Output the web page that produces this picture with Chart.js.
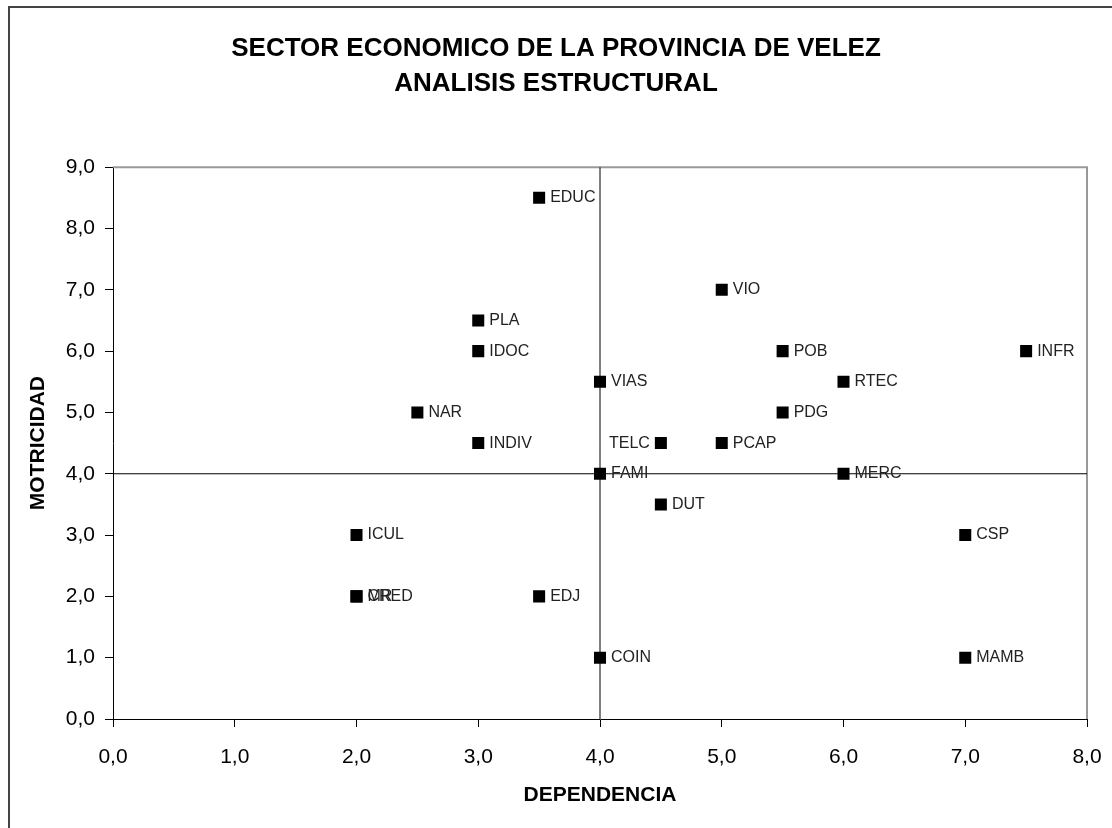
<!DOCTYPE html>
<html>
<head>
<meta charset="utf-8">
<script src="https://cdn.jsdelivr.net/npm/chart.js@4"></script>
<style>
  body { margin: 0; background: #fff; }
  #frame {
    position: absolute; left: 8px; top: 6px;
    width: 1200px; height: 900px;
    border: 2px solid #444;
  }
  #chart { position: absolute; left: 0; top: 0; }
</style>
</head>
<body>
<div id="frame"></div>
<canvas id="chart" width="1112" height="828"></canvas>
<script>
// Sector labels with dependencia (x) and motricidad (y)
const sectors = ["EDUC", "VIO", "PLA", "IDOC", "POB", "INFR", "VIAS", "RTEC", "NAR", "PDG",
  "INDIV", "TELC", "PCAP", "FAMI", "MERC", "DUT", "ICUL", "CSP", "CRED", "MR", "EDJ", "COIN", "MAMB"];
const dependencia = [3.5, 5, 3, 3, 5.5, 7.5, 4, 6, 2.5, 5.5,
  3, 4.5, 5, 4, 6, 4.5, 2, 7, 2, 2, 3.5, 4, 7];
const motricidad = [8.5, 7, 6.5, 6, 6, 6, 5.5, 5.5, 5, 5,
  4.5, 4.5, 4.5, 4, 4, 3.5, 3, 3, 2, 2, 2, 1, 1];
const leftLabels = ["TELC"];

// quadrant dividers
const divX = [4, 4];
const divXy = [0, 9];
const divY = [4, 4];
const divYx = [0, 8];

const xTicks = ["0,0", "1,0", "2,0", "3,0", "4,0", "5,0", "6,0", "7,0", "8,0"];
const yTicks = ["0,0", "1,0", "2,0", "3,0", "4,0", "5,0", "6,0", "7,0", "8,0", "9,0"];

const points = sectors.map((s, i) => ({ x: dependencia[i], y: motricidad[i], label: s }));

const frameBox = {
  id: "frameBox",
  beforeDatasetsDraw(chart) {
    const { ctx, chartArea: a } = chart;
    ctx.save();
    ctx.strokeStyle = "#999";
    ctx.lineWidth = 2;
    ctx.beginPath();
    ctx.moveTo(a.left, a.top);
    ctx.lineTo(a.right, a.top);
    ctx.lineTo(a.right, a.bottom);
    ctx.stroke();
    ctx.restore();
  },
};

const pointLabels = {
  id: "pointLabels",
  afterDatasetsDraw(chart) {
    const ctx = chart.ctx;
    const meta = chart.getDatasetMeta(2);
    ctx.save();
    ctx.font = "16px 'Liberation Sans', Arial, sans-serif";
    ctx.fillStyle = "#222";
    ctx.textBaseline = "middle";
    meta.data.forEach((el, i) => {
      const name = points[i].label;
      if (leftLabels.includes(name)) {
        ctx.textAlign = "right";
        ctx.fillText(name, el.x - 11, el.y);
      } else {
        ctx.textAlign = "left";
        ctx.fillText(name, el.x + 11, el.y);
      }
    });
    ctx.restore();
  },
};

const tickFont = { family: "'Liberation Sans', Arial, sans-serif", size: 21 };
const titleFont = { family: "'Liberation Sans', Arial, sans-serif", size: 21, weight: "bold" };

new Chart(document.getElementById("chart"), {
  type: "scatter",
  data: {
    datasets: [
      {
        type: "line",
        data: divXy.map((y, i) => ({ x: divX[i], y: y })),
        borderColor: "#000",
        borderWidth: 1,
        pointRadius: 0,
      },
      {
        type: "line",
        data: divYx.map((x, i) => ({ x: x, y: divY[i] })),
        borderColor: "#000",
        borderWidth: 1,
        pointRadius: 0,
      },
      {
        data: points,
        pointStyle: "rect",
        pointRadius: 8.5,
        pointHoverRadius: 8.5,
        backgroundColor: "#000",
        borderColor: "#000",
        borderWidth: 0,
      },
    ],
  },
  options: {
    responsive: false,
    animation: false,
    layout: { padding: 0 },
    plugins: {
      legend: { display: false },
      tooltip: { enabled: false },
      title: {
        display: true,
        text: ["SECTOR ECONOMICO DE LA PROVINCIA DE VELEZ", "ANALISIS ESTRUCTURAL"],
        color: "#000",
        font: { family: "'Liberation Sans', Arial, sans-serif", size: 26, weight: "bold", lineHeight: 1.35 },
        padding: { top: 31, bottom: 66 },
      },
    },
    scales: {
      x: {
        type: "linear",
        min: 0,
        max: 8,
        ticks: {
          stepSize: 1,
          color: "#000",
          font: tickFont,
          padding: 18,
          maxRotation: 0,
          callback: (v) => xTicks[v],
        },
        grid: { drawOnChartArea: false, drawTicks: true, tickLength: 8, color: "#000" },
        border: { color: "#000", width: 1 },
        title: { display: true, text: "DEPENDENCIA", color: "#000", font: titleFont, padding: { top: 0, bottom: 20 } },
        afterFit: (scale) => {
          scale.height = 109;
          scale.paddingRight = 25;
        },
      },
      y: {
        type: "linear",
        min: 0,
        max: 9,
        ticks: {
          stepSize: 1,
          color: "#000",
          font: tickFont,
          padding: 10,
          callback: (v) => yTicks[v],
        },
        grid: { drawOnChartArea: false, drawTicks: true, tickLength: 8, color: "#000" },
        border: { color: "#000", width: 1 },
        title: { display: true, text: "MOTRICIDAD", color: "#000", font: titleFont, padding: { top: 26, bottom: 0 } },
        afterFit: (scale) => { scale.width = 113; },
      },
    },
  },
  plugins: [frameBox, pointLabels],
});
</script>
</body>
</html>
